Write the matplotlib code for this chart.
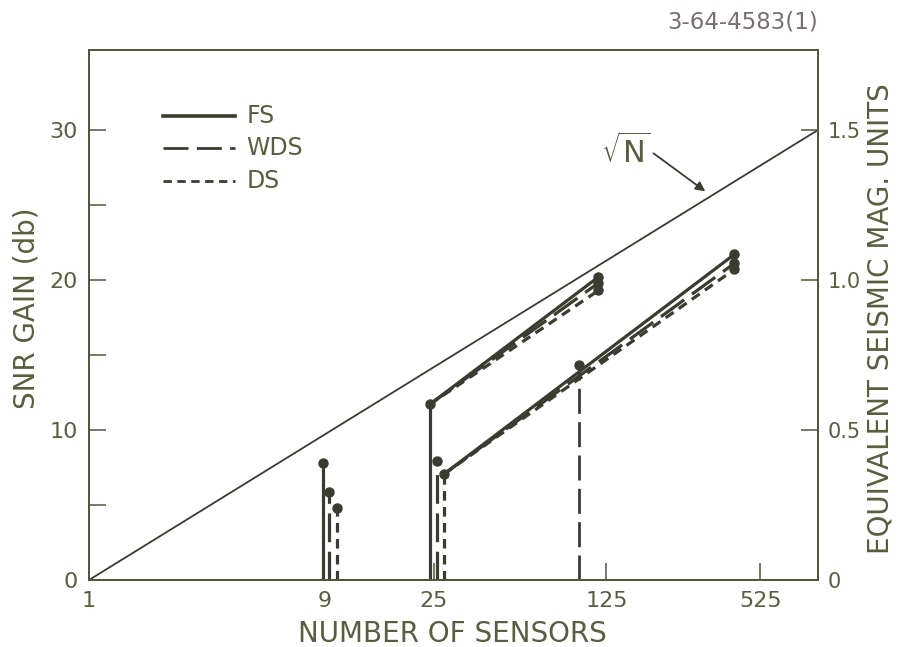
import matplotlib
matplotlib.use("Agg")
import matplotlib.pyplot as plt

# values
sqrt_n = [1, 900]
sqrt_db = [0, 30]

styles = ["FS", "WDS", "DS"]

# short vertical bars near N = 9
n_9 = [8.9, 9.4, 10.1]
db_9 = [7.8, 5.85, 4.8]

# vertical bars near N = 25
n_25 = [24.0, 25.6, 27.4]
db_25 = [11.7, 7.9, 7.05]

# upper sloped group (from the FS point at 25)
up_start_n, up_start_db = 24.0, 11.7
up_end_n = 116
up_end_db = [20.2, 19.8, 19.3]

# lower sloped group (from the DS point at 25)
low_start_n, low_start_db = 27.4, 7.05
low_end_n = 412
low_end_db = [21.7, 21.1, 20.7]

# single long-dash bar near N = 100
n_100 = 97
db_100 = 14.3

x_ticks = [1, 9, 25, 125, 525]
y_ticks = [0, 10, 20, 30]
y_minor = [5, 15, 25]
mag_ticks = [0, 0.5, 1.0, 1.5]

line_col = "#3b3b30"
axis_col = "#55553c"
text_col = "#5c5c40"

ls = {
    "FS": "-",
    "WDS": (0, (9, 3)),
    "DS": (0, (3, 2)),
}

fig = plt.figure(figsize=(8.99, 6.47), dpi=100)
ax = fig.add_axes([89 / 899, 67 / 647, 729 / 899, 530 / 647])

ax.set_xscale("log")
ax.set_xlim(1, 900)
ax.set_ylim(0, 35.33)

ax.plot(sqrt_n, sqrt_db, color=line_col, lw=1.3)

for i, s in enumerate(styles):
    ax.plot([n_9[i], n_9[i]], [0, db_9[i]], color=line_col, lw=2.3, linestyle=ls[s])
    ax.plot(n_9[i], db_9[i], "o", color=line_col, ms=6.5)
    ax.plot([n_25[i], n_25[i]], [0, db_25[i]], color=line_col, lw=2.3, linestyle=ls[s])
    ax.plot(n_25[i], db_25[i], "o", color=line_col, ms=6.5)
    ax.plot([up_start_n, up_end_n], [up_start_db, up_end_db[i]],
            color=line_col, lw=2.3, linestyle=ls[s])
    ax.plot(up_end_n, up_end_db[i], "o", color=line_col, ms=6.5)
    ax.plot([low_start_n, low_end_n], [low_start_db, low_end_db[i]],
            color=line_col, lw=2.3, linestyle=ls[s])
    ax.plot(low_end_n, low_end_db[i], "o", color=line_col, ms=6.5)

ax.plot([n_100, n_100], [0, db_100], color=line_col, lw=2.0, linestyle=ls["WDS"])
ax.plot(n_100, db_100, "o", color=line_col, ms=6.5)

# legend drawn by hand
leg_y = [0.8755, 0.815, 0.753]
for s, yy in zip(styles, leg_y):
    ax.plot([0.1015, 0.2003], [yy, yy], transform=ax.transAxes,
            color=line_col, lw=2.6 if s == "FS" else 2.0, linestyle=ls[s])
    ax.text(0.216, yy, s, transform=ax.transAxes, va="center", ha="left",
            fontsize=17, color=text_col)

# sqrt(N) label with arrow
ax.annotate("", xy=(321, 25.8), xytext=(190, 28.55),
            arrowprops=dict(arrowstyle="-|>", color=line_col, lw=1.3,
                            mutation_scale=14))
ax.text(150, 28.6, r"$\sqrt{\mathsf{N}}$", fontsize=22, color=text_col,
        ha="center", va="center")

ax.set_xticks(x_ticks)
ax.set_xticklabels([str(v) for v in x_ticks])
ax.xaxis.set_minor_locator(matplotlib.ticker.NullLocator())
ax.set_yticks(y_ticks)
ax.set_yticks(y_minor, minor=True)
ax.tick_params(axis="both", which="both", direction="in", length=12, width=1.1,
               colors=axis_col, labelcolor=text_col, labelsize=16, pad=8)
ax.tick_params(axis="x", top=False)

for sp in ax.spines.values():
    sp.set_color(axis_col)
    sp.set_linewidth(1.3)

ax2 = ax.twinx()
ax2.set_ylim(0, 35.33 * 0.05)
ax2.set_yticks(mag_ticks)
ax2.set_yticklabels(["0", "0.5", "1.0", "1.5"])
ax2.tick_params(axis="y", direction="in", length=12, width=1.1,
                colors=axis_col, labelcolor=text_col, labelsize=15, pad=7)
for sp in ax2.spines.values():
    sp.set_color(axis_col)
    sp.set_linewidth(1.3)

ax.set_xlabel("NUMBER OF SENSORS", fontsize=20, color=text_col)
ax.set_ylabel("SNR GAIN (db)", fontsize=20, color=text_col)
ax2.set_ylabel("EQUIVALENT SEISMIC MAG. UNITS", fontsize=20, color=text_col)
ax.xaxis.set_label_coords(0.498, -0.075)
ax.yaxis.set_label_coords(-0.066, 0.513)
ax2.yaxis.set_label_coords(1.066, 0.494)

fig.text(818 / 899, 1 - 22 / 647, "3-64-4583(1)", ha="right", va="center",
         fontsize=16.5, color="#7a6e70")

fig.savefig("out.png", dpi=100)
